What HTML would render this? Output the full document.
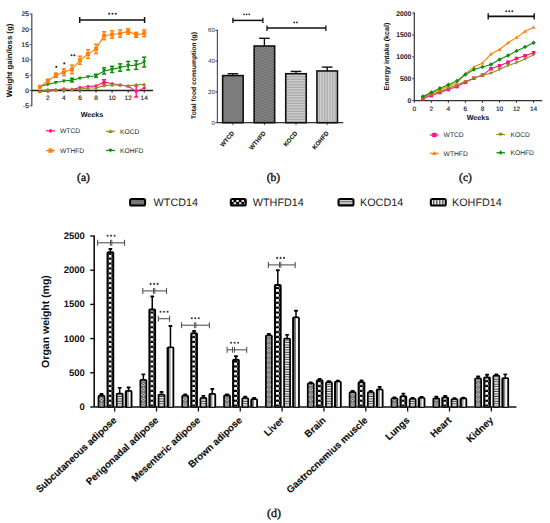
<!DOCTYPE html><html><head><meta charset="utf-8"><style>html,body{margin:0;padding:0;background:#fff;width:550px;height:523px;overflow:hidden}svg{display:block;text-rendering:geometricPrecision}</style></head><body>
<svg width="550" height="523" viewBox="0 0 550 523">
<defs>
<pattern id="pWT" x="-2.2" y="0" width="4.4" height="4.9" patternUnits="userSpaceOnUse"><rect width="4.4" height="4.9" fill="#7e7e7e"/><rect x="1.6" y="1.2" width="1.2" height="0.9" fill="#e6e6e6"/><rect x="1.5" y="2.1" width="1.4" height="0.8" fill="#3a3a3a"/><rect x="0.1" y="2.0" width="1.0" height="1.0" fill="#f0f0f0"/><rect x="3.3" y="2.0" width="1.0" height="1.0" fill="#f0f0f0"/><rect x="1.6" y="2.9" width="1.2" height="0.9" fill="#e6e6e6"/></pattern>
<pattern id="pHF" x="-1.9" y="0" width="6" height="4.9" patternUnits="userSpaceOnUse"><rect width="6" height="4.9" fill="#000"/><rect x="0" y="0.05" width="3.0" height="2.65" rx="0.3" fill="#fff"/><rect x="3.4" y="2.5" width="2.6" height="2.3" fill="#e8e8e8"/></pattern>
<pattern id="pKC" x="0" y="0" width="4" height="2.45" patternUnits="userSpaceOnUse"><rect width="4" height="2.45" fill="#f4f4f4"/><rect y="1.4" width="4" height="1.05" fill="#444"/></pattern>
<pattern id="pKH" x="0" y="0" width="3.6" height="4" patternUnits="userSpaceOnUse"><rect width="3.6" height="4" fill="#fbfbfb"/><rect x="2.2" width="1.4" height="4" fill="#7a7a7a"/></pattern>
<pattern id="lWT" x="0.3" y="199.2" width="2.8" height="2.8" patternUnits="userSpaceOnUse"><rect width="2.8" height="2.8" fill="#5e5e5e"/><rect x="0.3" y="0.3" width="0.9" height="0.9" fill="#e8e8e8"/><rect x="1.7" y="1.7" width="0.9" height="0.9" fill="#bdbdbd"/></pattern>
<pattern id="lHF" x="231" y="199.4" width="5.2" height="5.2" patternUnits="userSpaceOnUse"><rect width="5.2" height="5.2" fill="#000"/><rect x="0.2" y="0.2" width="2.3" height="2.3" fill="#fff"/><rect x="2.8" y="2.8" width="2.3" height="2.3" fill="#fff"/></pattern>
<pattern id="lKC" x="0" y="199.6" width="5" height="2.8" patternUnits="userSpaceOnUse"><rect width="5" height="2.8" fill="#fff"/><rect y="1.4" width="5" height="1.2" fill="#333"/></pattern>
<pattern id="lKH" x="431.4" y="0" width="3" height="5" patternUnits="userSpaceOnUse"><rect width="3" height="5" fill="#fff"/><rect x="1.8" width="1.2" height="5" fill="#222"/></pattern>
<pattern id="bHF" width="1.6" height="1.6" patternUnits="userSpaceOnUse"><rect width="1.6" height="1.6" fill="#9c9c9c"/><rect width="0.8" height="0.8" fill="#5a5a5a"/><rect x="0.8" y="0.8" width="0.8" height="0.8" fill="#5a5a5a"/></pattern>
<pattern id="bKC" width="1.6" height="1.6" patternUnits="userSpaceOnUse"><rect width="1.6" height="1.6" fill="#d0d0d0"/><rect y="0.8" width="1.6" height="0.8" fill="#a8a8a8"/></pattern>
<pattern id="bKH" width="1.6" height="1.6" patternUnits="userSpaceOnUse"><rect width="1.6" height="1.6" fill="#d4d4d4"/><rect x="0.8" width="0.8" height="1.6" fill="#acacac"/></pattern>
</defs>
<rect width="550" height="523" fill="#fff"/>
<line x1="31.8" y1="13.5" x2="31.8" y2="106.3" stroke="#555" stroke-width="1.3"/>
<line x1="29.6" y1="14" x2="31.8" y2="14" stroke="#555" stroke-width="1"/>
<text x="28.9" y="16.3" font-size="6.6" font-weight="normal" text-anchor="end" fill="#222" font-family='"Liberation Sans", sans-serif' stroke="#222" stroke-width="0.2">25</text>
<line x1="29.6" y1="29.3" x2="31.8" y2="29.3" stroke="#555" stroke-width="1"/>
<text x="28.9" y="31.6" font-size="6.6" font-weight="normal" text-anchor="end" fill="#222" font-family='"Liberation Sans", sans-serif' stroke="#222" stroke-width="0.2">20</text>
<line x1="29.6" y1="44.6" x2="31.8" y2="44.6" stroke="#555" stroke-width="1"/>
<text x="28.9" y="46.9" font-size="6.6" font-weight="normal" text-anchor="end" fill="#222" font-family='"Liberation Sans", sans-serif' stroke="#222" stroke-width="0.2">15</text>
<line x1="29.6" y1="59.9" x2="31.8" y2="59.9" stroke="#555" stroke-width="1"/>
<text x="28.9" y="62.2" font-size="6.6" font-weight="normal" text-anchor="end" fill="#222" font-family='"Liberation Sans", sans-serif' stroke="#222" stroke-width="0.2">10</text>
<line x1="29.6" y1="75.2" x2="31.8" y2="75.2" stroke="#555" stroke-width="1"/>
<text x="28.9" y="77.5" font-size="6.6" font-weight="normal" text-anchor="end" fill="#222" font-family='"Liberation Sans", sans-serif' stroke="#222" stroke-width="0.2">5</text>
<line x1="29.6" y1="90.5" x2="31.8" y2="90.5" stroke="#555" stroke-width="1"/>
<text x="28.9" y="92.8" font-size="6.6" font-weight="normal" text-anchor="end" fill="#222" font-family='"Liberation Sans", sans-serif' stroke="#222" stroke-width="0.2">0</text>
<line x1="29.6" y1="105.8" x2="31.8" y2="105.8" stroke="#555" stroke-width="1"/>
<text x="28.9" y="108.1" font-size="6.6" font-weight="normal" text-anchor="end" fill="#222" font-family='"Liberation Sans", sans-serif' stroke="#222" stroke-width="0.2">-5</text>
<line x1="31.8" y1="90.5" x2="153" y2="90.5" stroke="#222" stroke-width="1.3"/>
<line x1="47.86" y1="90.5" x2="47.86" y2="92.7" stroke="#222" stroke-width="1"/>
<text x="47.86" y="100.3" font-size="6.5" font-weight="normal" text-anchor="middle" fill="#222" font-family='"Liberation Sans", sans-serif' stroke="#222" stroke-width="0.15">2</text>
<line x1="63.92" y1="90.5" x2="63.92" y2="92.7" stroke="#222" stroke-width="1"/>
<text x="63.92" y="100.3" font-size="6.5" font-weight="normal" text-anchor="middle" fill="#222" font-family='"Liberation Sans", sans-serif' stroke="#222" stroke-width="0.15">4</text>
<line x1="79.98" y1="90.5" x2="79.98" y2="92.7" stroke="#222" stroke-width="1"/>
<text x="79.98" y="100.3" font-size="6.5" font-weight="normal" text-anchor="middle" fill="#222" font-family='"Liberation Sans", sans-serif' stroke="#222" stroke-width="0.15">6</text>
<line x1="96.04" y1="90.5" x2="96.04" y2="92.7" stroke="#222" stroke-width="1"/>
<text x="96.04" y="100.3" font-size="6.5" font-weight="normal" text-anchor="middle" fill="#222" font-family='"Liberation Sans", sans-serif' stroke="#222" stroke-width="0.15">8</text>
<line x1="112.1" y1="90.5" x2="112.1" y2="92.7" stroke="#222" stroke-width="1"/>
<text x="112.1" y="100.3" font-size="6.5" font-weight="normal" text-anchor="middle" fill="#222" font-family='"Liberation Sans", sans-serif' stroke="#222" stroke-width="0.15">10</text>
<line x1="128.16" y1="90.5" x2="128.16" y2="92.7" stroke="#222" stroke-width="1"/>
<text x="128.16" y="100.3" font-size="6.5" font-weight="normal" text-anchor="middle" fill="#222" font-family='"Liberation Sans", sans-serif' stroke="#222" stroke-width="0.15">12</text>
<line x1="144.22" y1="90.5" x2="144.22" y2="92.7" stroke="#222" stroke-width="1"/>
<text x="144.22" y="100.3" font-size="6.5" font-weight="normal" text-anchor="middle" fill="#222" font-family='"Liberation Sans", sans-serif' stroke="#222" stroke-width="0.15">14</text>
<text x="92" y="116.5" font-size="7.2" font-weight="bold" text-anchor="middle" fill="#111" font-family='"Liberation Sans", sans-serif'>Weeks</text>
<text x="12.2" y="60.5" font-size="7.75" font-weight="bold" text-anchor="middle" fill="#111" font-family='"Liberation Sans", sans-serif' transform="rotate(-90 12.2 60.5)">Weight gain/loss (g)</text>
<polyline points="39.83,91.42 47.86,91.11 55.89,89.89 63.92,88.97 71.95,89.58 79.98,87.44 88.01,86.52 96.04,85.91 104.07,81.93 112.1,83.77 120.13,84.99 128.16,86.22 136.19,91.42 144.22,88.05" fill="none" stroke="#ff1288" stroke-width="1.1"/>
<polygon points="39.83,89.42 41.83,91.42 39.83,93.42 37.83,91.42" fill="#ff1288"/>
<polygon points="47.86,89.11 49.86,91.11 47.86,93.11 45.86,91.11" fill="#ff1288"/>
<polygon points="55.89,87.89 57.89,89.89 55.89,91.89 53.89,89.89" fill="#ff1288"/>
<polygon points="63.92,86.97 65.92,88.97 63.92,90.97 61.92,88.97" fill="#ff1288"/>
<polygon points="71.95,87.58 73.95,89.58 71.95,91.58 69.95,89.58" fill="#ff1288"/>
<polygon points="79.98,85.44 81.98,87.44 79.98,89.44 77.98,87.44" fill="#ff1288"/>
<polygon points="88.01,84.52 90.01,86.52 88.01,88.52 86.01,86.52" fill="#ff1288"/>
<polygon points="96.04,83.91 98.04,85.91 96.04,87.91 94.04,85.91" fill="#ff1288"/>
<line x1="104.07" y1="79.79" x2="104.07" y2="84.07" stroke="#ff1288" stroke-width="1.4"/>
<line x1="101.97" y1="79.79" x2="106.17" y2="79.79" stroke="#ff1288" stroke-width="1.5"/>
<line x1="101.97" y1="84.07" x2="106.17" y2="84.07" stroke="#ff1288" stroke-width="1.5"/>
<polygon points="104.07,79.93 106.07,81.93 104.07,83.93 102.07,81.93" fill="#ff1288"/>
<polygon points="112.1,81.77 114.1,83.77 112.1,85.77 110.1,83.77" fill="#ff1288"/>
<polygon points="120.13,82.99 122.13,84.99 120.13,86.99 118.13,84.99" fill="#ff1288"/>
<polygon points="128.16,84.22 130.16,86.22 128.16,88.22 126.16,86.22" fill="#ff1288"/>
<line x1="136.19" y1="85.91" x2="136.19" y2="96.93" stroke="#ff1288" stroke-width="1.4"/>
<line x1="134.09" y1="85.91" x2="138.29" y2="85.91" stroke="#ff1288" stroke-width="1.5"/>
<line x1="134.09" y1="96.93" x2="138.29" y2="96.93" stroke="#ff1288" stroke-width="1.5"/>
<polygon points="136.19,89.42 138.19,91.42 136.19,93.42 134.19,91.42" fill="#ff1288"/>
<polygon points="144.22,86.05 146.22,88.05 144.22,90.05 142.22,88.05" fill="#ff1288"/>
<polyline points="39.83,91.42 47.86,89.58 55.89,89.58 63.92,89.28 71.95,89.58 79.98,88.97 88.01,88.05 96.04,88.05 104.07,85.6 112.1,84.99 120.13,84.99 128.16,85.91 136.19,84.69 144.22,84.38" fill="none" stroke="#8f8f12" stroke-width="1.1"/>
<polygon points="39.83,89.22 41.83,93.02 37.83,93.02" fill="#8f8f12"/>
<polygon points="47.86,87.38 49.86,91.18 45.86,91.18" fill="#8f8f12"/>
<polygon points="55.89,87.38 57.89,91.18 53.89,91.18" fill="#8f8f12"/>
<polygon points="63.92,87.08 65.92,90.88 61.92,90.88" fill="#8f8f12"/>
<polygon points="71.95,87.38 73.95,91.18 69.95,91.18" fill="#8f8f12"/>
<polygon points="79.98,86.77 81.98,90.57 77.98,90.57" fill="#8f8f12"/>
<polygon points="88.01,85.85 90.01,89.65 86.01,89.65" fill="#8f8f12"/>
<polygon points="96.04,85.85 98.04,89.65 94.04,89.65" fill="#8f8f12"/>
<polygon points="104.07,83.4 106.07,87.2 102.07,87.2" fill="#8f8f12"/>
<polygon points="112.1,82.79 114.1,86.59 110.1,86.59" fill="#8f8f12"/>
<polygon points="120.13,82.79 122.13,86.59 118.13,86.59" fill="#8f8f12"/>
<polygon points="128.16,83.71 130.16,87.51 126.16,87.51" fill="#8f8f12"/>
<polygon points="136.19,82.49 138.19,86.29 134.19,86.29" fill="#8f8f12"/>
<polygon points="144.22,82.18 146.22,85.98 142.22,85.98" fill="#8f8f12"/>
<polyline points="39.83,86.52 47.86,84.38 55.89,82.54 63.92,81.01 71.95,80.1 79.98,78.26 88.01,76.73 96.04,75.81 104.07,70.92 112.1,69.39 120.13,67.55 128.16,65.71 136.19,65.1 144.22,62.04" fill="none" stroke="#0f8c0f" stroke-width="1.1"/>
<polygon points="39.83,88.72 41.83,84.92 37.83,84.92" fill="#0f8c0f"/>
<polygon points="47.86,86.58 49.86,82.78 45.86,82.78" fill="#0f8c0f"/>
<polygon points="55.89,84.74 57.89,80.94 53.89,80.94" fill="#0f8c0f"/>
<polygon points="63.92,83.21 65.92,79.41 61.92,79.41" fill="#0f8c0f"/>
<line x1="71.95" y1="78.26" x2="71.95" y2="81.93" stroke="#0f8c0f" stroke-width="1.4"/>
<line x1="69.85" y1="78.26" x2="74.05" y2="78.26" stroke="#0f8c0f" stroke-width="1.5"/>
<line x1="69.85" y1="81.93" x2="74.05" y2="81.93" stroke="#0f8c0f" stroke-width="1.5"/>
<polygon points="71.95,82.3 73.95,78.5 69.95,78.5" fill="#0f8c0f"/>
<polygon points="79.98,80.46 81.98,76.66 77.98,76.66" fill="#0f8c0f"/>
<polygon points="88.01,78.93 90.01,75.13 86.01,75.13" fill="#0f8c0f"/>
<line x1="96.04" y1="74.28" x2="96.04" y2="77.34" stroke="#0f8c0f" stroke-width="1.4"/>
<line x1="93.94" y1="74.28" x2="98.14" y2="74.28" stroke="#0f8c0f" stroke-width="1.5"/>
<line x1="93.94" y1="77.34" x2="98.14" y2="77.34" stroke="#0f8c0f" stroke-width="1.5"/>
<polygon points="96.04,78.01 98.04,74.21 94.04,74.21" fill="#0f8c0f"/>
<line x1="104.07" y1="67.86" x2="104.07" y2="73.98" stroke="#0f8c0f" stroke-width="1.4"/>
<line x1="101.97" y1="67.86" x2="106.17" y2="67.86" stroke="#0f8c0f" stroke-width="1.5"/>
<line x1="101.97" y1="73.98" x2="106.17" y2="73.98" stroke="#0f8c0f" stroke-width="1.5"/>
<polygon points="104.07,73.12 106.07,69.32 102.07,69.32" fill="#0f8c0f"/>
<line x1="112.1" y1="66.33" x2="112.1" y2="72.45" stroke="#0f8c0f" stroke-width="1.4"/>
<line x1="110" y1="66.33" x2="114.2" y2="66.33" stroke="#0f8c0f" stroke-width="1.5"/>
<line x1="110" y1="72.45" x2="114.2" y2="72.45" stroke="#0f8c0f" stroke-width="1.5"/>
<polygon points="112.1,71.59 114.1,67.79 110.1,67.79" fill="#0f8c0f"/>
<line x1="120.13" y1="63.88" x2="120.13" y2="71.22" stroke="#0f8c0f" stroke-width="1.4"/>
<line x1="118.03" y1="63.88" x2="122.23" y2="63.88" stroke="#0f8c0f" stroke-width="1.5"/>
<line x1="118.03" y1="71.22" x2="122.23" y2="71.22" stroke="#0f8c0f" stroke-width="1.5"/>
<polygon points="120.13,69.75 122.13,65.95 118.13,65.95" fill="#0f8c0f"/>
<line x1="128.16" y1="61.43" x2="128.16" y2="70" stroke="#0f8c0f" stroke-width="1.4"/>
<line x1="126.06" y1="61.43" x2="130.26" y2="61.43" stroke="#0f8c0f" stroke-width="1.5"/>
<line x1="126.06" y1="70" x2="130.26" y2="70" stroke="#0f8c0f" stroke-width="1.5"/>
<polygon points="128.16,67.91 130.16,64.11 126.16,64.11" fill="#0f8c0f"/>
<line x1="136.19" y1="60.82" x2="136.19" y2="69.39" stroke="#0f8c0f" stroke-width="1.4"/>
<line x1="134.09" y1="60.82" x2="138.29" y2="60.82" stroke="#0f8c0f" stroke-width="1.5"/>
<line x1="134.09" y1="69.39" x2="138.29" y2="69.39" stroke="#0f8c0f" stroke-width="1.5"/>
<polygon points="136.19,67.3 138.19,63.5 134.19,63.5" fill="#0f8c0f"/>
<line x1="144.22" y1="57.15" x2="144.22" y2="66.94" stroke="#0f8c0f" stroke-width="1.4"/>
<line x1="142.12" y1="57.15" x2="146.32" y2="57.15" stroke="#0f8c0f" stroke-width="1.5"/>
<line x1="142.12" y1="66.94" x2="146.32" y2="66.94" stroke="#0f8c0f" stroke-width="1.5"/>
<polygon points="144.22,64.24 146.22,60.44 142.22,60.44" fill="#0f8c0f"/>
<polyline points="39.83,86.83 47.86,81.01 55.89,75.2 63.92,72.14 71.95,69.39 79.98,60.21 88.01,54.09 96.04,48.88 104.07,35.73 112.1,34.5 120.13,33.58 128.16,31.44 136.19,34.81 144.22,33.28" fill="none" stroke="#ff800c" stroke-width="1.1"/>
<rect x="37.83" y="84.83" width="4" height="4" fill="#ff800c"/>
<line x1="47.86" y1="79.18" x2="47.86" y2="82.85" stroke="#ff800c" stroke-width="1.4"/>
<line x1="45.76" y1="79.18" x2="49.96" y2="79.18" stroke="#ff800c" stroke-width="1.5"/>
<line x1="45.76" y1="82.85" x2="49.96" y2="82.85" stroke="#ff800c" stroke-width="1.5"/>
<rect x="45.86" y="79.01" width="4" height="4" fill="#ff800c"/>
<line x1="55.89" y1="73.06" x2="55.89" y2="77.34" stroke="#ff800c" stroke-width="1.4"/>
<line x1="53.79" y1="73.06" x2="57.99" y2="73.06" stroke="#ff800c" stroke-width="1.5"/>
<line x1="53.79" y1="77.34" x2="57.99" y2="77.34" stroke="#ff800c" stroke-width="1.5"/>
<rect x="53.89" y="73.2" width="4" height="4" fill="#ff800c"/>
<line x1="63.92" y1="68.77" x2="63.92" y2="75.51" stroke="#ff800c" stroke-width="1.4"/>
<line x1="61.82" y1="68.77" x2="66.02" y2="68.77" stroke="#ff800c" stroke-width="1.5"/>
<line x1="61.82" y1="75.51" x2="66.02" y2="75.51" stroke="#ff800c" stroke-width="1.5"/>
<rect x="61.92" y="70.14" width="4" height="4" fill="#ff800c"/>
<line x1="71.95" y1="65.1" x2="71.95" y2="73.67" stroke="#ff800c" stroke-width="1.4"/>
<line x1="69.85" y1="65.1" x2="74.05" y2="65.1" stroke="#ff800c" stroke-width="1.5"/>
<line x1="69.85" y1="73.67" x2="74.05" y2="73.67" stroke="#ff800c" stroke-width="1.5"/>
<rect x="69.95" y="67.39" width="4" height="4" fill="#ff800c"/>
<line x1="79.98" y1="56.23" x2="79.98" y2="64.18" stroke="#ff800c" stroke-width="1.4"/>
<line x1="77.88" y1="56.23" x2="82.08" y2="56.23" stroke="#ff800c" stroke-width="1.5"/>
<line x1="77.88" y1="64.18" x2="82.08" y2="64.18" stroke="#ff800c" stroke-width="1.5"/>
<rect x="77.98" y="58.21" width="4" height="4" fill="#ff800c"/>
<line x1="88.01" y1="49.8" x2="88.01" y2="58.37" stroke="#ff800c" stroke-width="1.4"/>
<line x1="85.91" y1="49.8" x2="90.11" y2="49.8" stroke="#ff800c" stroke-width="1.5"/>
<line x1="85.91" y1="58.37" x2="90.11" y2="58.37" stroke="#ff800c" stroke-width="1.5"/>
<rect x="86.01" y="52.09" width="4" height="4" fill="#ff800c"/>
<line x1="96.04" y1="44.29" x2="96.04" y2="53.47" stroke="#ff800c" stroke-width="1.4"/>
<line x1="93.94" y1="44.29" x2="98.14" y2="44.29" stroke="#ff800c" stroke-width="1.5"/>
<line x1="93.94" y1="53.47" x2="98.14" y2="53.47" stroke="#ff800c" stroke-width="1.5"/>
<rect x="94.04" y="46.88" width="4" height="4" fill="#ff800c"/>
<line x1="104.07" y1="31.75" x2="104.07" y2="39.7" stroke="#ff800c" stroke-width="1.4"/>
<line x1="101.97" y1="31.75" x2="106.17" y2="31.75" stroke="#ff800c" stroke-width="1.5"/>
<line x1="101.97" y1="39.7" x2="106.17" y2="39.7" stroke="#ff800c" stroke-width="1.5"/>
<rect x="102.07" y="33.73" width="4" height="4" fill="#ff800c"/>
<line x1="112.1" y1="30.83" x2="112.1" y2="38.17" stroke="#ff800c" stroke-width="1.4"/>
<line x1="110" y1="30.83" x2="114.2" y2="30.83" stroke="#ff800c" stroke-width="1.5"/>
<line x1="110" y1="38.17" x2="114.2" y2="38.17" stroke="#ff800c" stroke-width="1.5"/>
<rect x="110.1" y="32.5" width="4" height="4" fill="#ff800c"/>
<line x1="120.13" y1="29.91" x2="120.13" y2="37.26" stroke="#ff800c" stroke-width="1.4"/>
<line x1="118.03" y1="29.91" x2="122.23" y2="29.91" stroke="#ff800c" stroke-width="1.5"/>
<line x1="118.03" y1="37.26" x2="122.23" y2="37.26" stroke="#ff800c" stroke-width="1.5"/>
<rect x="118.13" y="31.58" width="4" height="4" fill="#ff800c"/>
<line x1="128.16" y1="28.69" x2="128.16" y2="34.2" stroke="#ff800c" stroke-width="1.4"/>
<line x1="126.06" y1="28.69" x2="130.26" y2="28.69" stroke="#ff800c" stroke-width="1.5"/>
<line x1="126.06" y1="34.2" x2="130.26" y2="34.2" stroke="#ff800c" stroke-width="1.5"/>
<rect x="126.16" y="29.44" width="4" height="4" fill="#ff800c"/>
<line x1="136.19" y1="32.36" x2="136.19" y2="37.26" stroke="#ff800c" stroke-width="1.4"/>
<line x1="134.09" y1="32.36" x2="138.29" y2="32.36" stroke="#ff800c" stroke-width="1.5"/>
<line x1="134.09" y1="37.26" x2="138.29" y2="37.26" stroke="#ff800c" stroke-width="1.5"/>
<rect x="134.19" y="32.81" width="4" height="4" fill="#ff800c"/>
<line x1="144.22" y1="29.91" x2="144.22" y2="36.64" stroke="#ff800c" stroke-width="1.4"/>
<line x1="142.12" y1="29.91" x2="146.32" y2="29.91" stroke="#ff800c" stroke-width="1.5"/>
<line x1="142.12" y1="36.64" x2="146.32" y2="36.64" stroke="#ff800c" stroke-width="1.5"/>
<rect x="142.22" y="31.28" width="4" height="4" fill="#ff800c"/>
<line x1="79.68" y1="20" x2="144.6" y2="20" stroke="#111" stroke-width="1.6"/>
<line x1="79.68" y1="17" x2="79.68" y2="23" stroke="#111" stroke-width="1.5"/>
<line x1="144.6" y1="17" x2="144.6" y2="23" stroke="#111" stroke-width="1.5"/>
<circle cx="109.2" cy="13.8" r="1.05" fill="#2a2a35"/>
<circle cx="112.5" cy="13.8" r="1.05" fill="#2a2a35"/>
<circle cx="115.8" cy="13.8" r="1.05" fill="#2a2a35"/>
<circle cx="56.3" cy="66.9" r="1.05" fill="#2a2a35"/>
<circle cx="64.3" cy="63.4" r="1.05" fill="#2a2a35"/>
<circle cx="71.55" cy="55.3" r="1.05" fill="#2a2a35"/>
<circle cx="74.45" cy="55.3" r="1.05" fill="#2a2a35"/>
<line x1="46" y1="130.8" x2="55" y2="130.8" stroke="#ff1288" stroke-width="1.2"/>
<polygon points="50.5,128.65 52.65,130.8 50.5,132.95 48.35,130.8" fill="#ff1288"/>
<text x="60" y="133.2" font-size="6.7" font-weight="normal" text-anchor="start" fill="#2a2a2a" font-family='"Liberation Sans", sans-serif'>WTCD</text>
<line x1="46" y1="150.6" x2="55" y2="150.6" stroke="#ff800c" stroke-width="1.2"/>
<rect x="48.35" y="148.45" width="4.3" height="4.3" fill="#ff800c"/>
<text x="60" y="153" font-size="6.7" font-weight="normal" text-anchor="start" fill="#2a2a2a" font-family='"Liberation Sans", sans-serif'>WTHFD</text>
<line x1="106" y1="131.3" x2="115" y2="131.3" stroke="#8f8f12" stroke-width="1.2"/>
<polygon points="110.5,128.94 112.65,133.02 108.35,133.02" fill="#8f8f12"/>
<text x="120" y="133.7" font-size="6.7" font-weight="normal" text-anchor="start" fill="#2a2a2a" font-family='"Liberation Sans", sans-serif'>KOCD</text>
<line x1="106" y1="150.5" x2="115" y2="150.5" stroke="#0f8c0f" stroke-width="1.2"/>
<polygon points="110.5,152.87 112.65,148.78 108.35,148.78" fill="#0f8c0f"/>
<text x="120" y="152.9" font-size="6.7" font-weight="normal" text-anchor="start" fill="#2a2a2a" font-family='"Liberation Sans", sans-serif'>KOHFD</text>
<text x="83.5" y="181" font-size="11.5" font-weight="normal" text-anchor="middle" fill="#111" font-family='"Liberation Serif", serif' stroke="#111" stroke-width="0.4">(a)</text>
<line x1="217.4" y1="29.8" x2="217.4" y2="122.7" stroke="#555" stroke-width="1.2"/>
<line x1="215.4" y1="30.3" x2="217.4" y2="30.3" stroke="#333" stroke-width="1"/>
<text x="214.8" y="32.4" font-size="6.1" font-weight="normal" text-anchor="end" fill="#222" font-family='"Liberation Sans", sans-serif'>60</text>
<line x1="215.4" y1="61.1" x2="217.4" y2="61.1" stroke="#333" stroke-width="1"/>
<text x="214.8" y="63.2" font-size="6.1" font-weight="normal" text-anchor="end" fill="#222" font-family='"Liberation Sans", sans-serif'>40</text>
<line x1="215.4" y1="91.9" x2="217.4" y2="91.9" stroke="#333" stroke-width="1"/>
<text x="214.8" y="94" font-size="6.1" font-weight="normal" text-anchor="end" fill="#222" font-family='"Liberation Sans", sans-serif'>20</text>
<line x1="215.4" y1="122.7" x2="217.4" y2="122.7" stroke="#333" stroke-width="1"/>
<text x="214.8" y="124.8" font-size="6.1" font-weight="normal" text-anchor="end" fill="#222" font-family='"Liberation Sans", sans-serif'>0</text>
<line x1="217.4" y1="122.7" x2="343.3" y2="122.7" stroke="#333" stroke-width="1.2"/>
<line x1="232.9" y1="75.58" x2="232.9" y2="73.73" stroke="#111" stroke-width="1.4"/>
<line x1="227.6" y1="73.73" x2="238.2" y2="73.73" stroke="#111" stroke-width="1.4"/>
<rect x="222.65" y="75.58" width="20.5" height="47.12" fill="#7d7d7d" stroke="#111" stroke-width="1.6"/>
<line x1="232.9" y1="122.7" x2="232.9" y2="124.9" stroke="#333" stroke-width="1"/>
<text x="234.7" y="133.3" font-size="6.1" font-weight="bold" text-anchor="end" fill="#222" font-family='"Liberation Sans", sans-serif' transform="rotate(-50 234.7 133.3)" stroke="#222" stroke-width="0.15">WTCD</text>
<line x1="264.4" y1="46.01" x2="264.4" y2="38.31" stroke="#111" stroke-width="1.4"/>
<line x1="259.1" y1="38.31" x2="269.7" y2="38.31" stroke="#111" stroke-width="1.4"/>
<rect x="254.15" y="46.01" width="20.5" height="76.69" fill="url(#bHF)" stroke="#111" stroke-width="1.6"/>
<line x1="264.4" y1="122.7" x2="264.4" y2="124.9" stroke="#333" stroke-width="1"/>
<text x="266.2" y="133.3" font-size="6.1" font-weight="bold" text-anchor="end" fill="#222" font-family='"Liberation Sans", sans-serif' transform="rotate(-50 266.2 133.3)" stroke="#222" stroke-width="0.15">WTHFD</text>
<line x1="296" y1="73.73" x2="296" y2="71.42" stroke="#111" stroke-width="1.4"/>
<line x1="290.7" y1="71.42" x2="301.3" y2="71.42" stroke="#111" stroke-width="1.4"/>
<rect x="285.75" y="73.73" width="20.5" height="48.97" fill="url(#bKC)" stroke="#111" stroke-width="1.6"/>
<line x1="296" y1="122.7" x2="296" y2="124.9" stroke="#333" stroke-width="1"/>
<text x="297.8" y="133.3" font-size="6.1" font-weight="bold" text-anchor="end" fill="#222" font-family='"Liberation Sans", sans-serif' transform="rotate(-50 297.8 133.3)" stroke="#222" stroke-width="0.15">KOCD</text>
<line x1="327.2" y1="70.96" x2="327.2" y2="67.11" stroke="#111" stroke-width="1.4"/>
<line x1="321.9" y1="67.11" x2="332.5" y2="67.11" stroke="#111" stroke-width="1.4"/>
<rect x="316.95" y="70.96" width="20.5" height="51.74" fill="url(#bKH)" stroke="#111" stroke-width="1.6"/>
<line x1="327.2" y1="122.7" x2="327.2" y2="124.9" stroke="#333" stroke-width="1"/>
<text x="329" y="133.3" font-size="6.1" font-weight="bold" text-anchor="end" fill="#222" font-family='"Liberation Sans", sans-serif' transform="rotate(-50 329 133.3)" stroke="#222" stroke-width="0.15">KOHFD</text>
<text x="196" y="75.5" font-size="6.75" font-weight="bold" text-anchor="middle" fill="#111" font-family='"Liberation Sans", sans-serif' transform="rotate(-90 196 75.5)">Total food consumption (g)</text>
<line x1="232.9" y1="20.4" x2="262.9" y2="20.4" stroke="#111" stroke-width="1.5"/>
<line x1="232.9" y1="17.8" x2="232.9" y2="23" stroke="#111" stroke-width="1.3"/>
<line x1="262.9" y1="17.8" x2="262.9" y2="23" stroke="#111" stroke-width="1.3"/>
<circle cx="244" cy="14.3" r="0.9" fill="#2a2a35"/>
<circle cx="246.6" cy="14.3" r="0.9" fill="#2a2a35"/>
<circle cx="249.2" cy="14.3" r="0.9" fill="#2a2a35"/>
<line x1="267" y1="28.1" x2="325.9" y2="28.1" stroke="#111" stroke-width="1.5"/>
<line x1="267" y1="25.6" x2="267" y2="31" stroke="#111" stroke-width="1.3"/>
<line x1="325.9" y1="25.6" x2="325.9" y2="31" stroke="#111" stroke-width="1.3"/>
<circle cx="294.3" cy="22.4" r="0.9" fill="#2a2a35"/>
<circle cx="296.9" cy="22.4" r="0.9" fill="#2a2a35"/>
<text x="273.4" y="181" font-size="11.5" font-weight="normal" text-anchor="middle" fill="#111" font-family='"Liberation Serif", serif' stroke="#111" stroke-width="0.4">(b)</text>
<line x1="414.3" y1="12.6" x2="414.3" y2="100.6" stroke="#333" stroke-width="1.2"/>
<line x1="412.3" y1="13.1" x2="414.3" y2="13.1" stroke="#333" stroke-width="1"/>
<text x="411.3" y="15.5" font-size="6.8" font-weight="bold" text-anchor="end" fill="#222" font-family='"Liberation Sans", sans-serif'>2000</text>
<line x1="412.3" y1="34.97" x2="414.3" y2="34.97" stroke="#333" stroke-width="1"/>
<text x="411.3" y="37.37" font-size="6.8" font-weight="bold" text-anchor="end" fill="#222" font-family='"Liberation Sans", sans-serif'>1500</text>
<line x1="412.3" y1="56.85" x2="414.3" y2="56.85" stroke="#333" stroke-width="1"/>
<text x="411.3" y="59.25" font-size="6.8" font-weight="bold" text-anchor="end" fill="#222" font-family='"Liberation Sans", sans-serif'>1000</text>
<line x1="412.3" y1="78.72" x2="414.3" y2="78.72" stroke="#333" stroke-width="1"/>
<text x="411.3" y="81.12" font-size="6.8" font-weight="bold" text-anchor="end" fill="#222" font-family='"Liberation Sans", sans-serif'>500</text>
<line x1="412.3" y1="100.6" x2="414.3" y2="100.6" stroke="#333" stroke-width="1"/>
<text x="411.3" y="103" font-size="6.8" font-weight="bold" text-anchor="end" fill="#222" font-family='"Liberation Sans", sans-serif'>0</text>
<line x1="414.3" y1="100.6" x2="542.2" y2="100.6" stroke="#333" stroke-width="1.3"/>
<line x1="414.3" y1="100.6" x2="414.3" y2="102.8" stroke="#333" stroke-width="1"/>
<text x="414.3" y="110.6" font-size="6.5" font-weight="normal" text-anchor="middle" fill="#222" font-family='"Liberation Sans", sans-serif' stroke="#222" stroke-width="0.15">0</text>
<line x1="431.34" y1="100.6" x2="431.34" y2="102.8" stroke="#333" stroke-width="1"/>
<text x="431.34" y="110.6" font-size="6.5" font-weight="normal" text-anchor="middle" fill="#222" font-family='"Liberation Sans", sans-serif' stroke="#222" stroke-width="0.15">2</text>
<line x1="448.38" y1="100.6" x2="448.38" y2="102.8" stroke="#333" stroke-width="1"/>
<text x="448.38" y="110.6" font-size="6.5" font-weight="normal" text-anchor="middle" fill="#222" font-family='"Liberation Sans", sans-serif' stroke="#222" stroke-width="0.15">4</text>
<line x1="465.42" y1="100.6" x2="465.42" y2="102.8" stroke="#333" stroke-width="1"/>
<text x="465.42" y="110.6" font-size="6.5" font-weight="normal" text-anchor="middle" fill="#222" font-family='"Liberation Sans", sans-serif' stroke="#222" stroke-width="0.15">6</text>
<line x1="482.46" y1="100.6" x2="482.46" y2="102.8" stroke="#333" stroke-width="1"/>
<text x="482.46" y="110.6" font-size="6.5" font-weight="normal" text-anchor="middle" fill="#222" font-family='"Liberation Sans", sans-serif' stroke="#222" stroke-width="0.15">8</text>
<line x1="499.5" y1="100.6" x2="499.5" y2="102.8" stroke="#333" stroke-width="1"/>
<text x="499.5" y="110.6" font-size="6.5" font-weight="normal" text-anchor="middle" fill="#222" font-family='"Liberation Sans", sans-serif' stroke="#222" stroke-width="0.15">10</text>
<line x1="516.54" y1="100.6" x2="516.54" y2="102.8" stroke="#333" stroke-width="1"/>
<text x="516.54" y="110.6" font-size="6.5" font-weight="normal" text-anchor="middle" fill="#222" font-family='"Liberation Sans", sans-serif' stroke="#222" stroke-width="0.15">12</text>
<line x1="533.58" y1="100.6" x2="533.58" y2="102.8" stroke="#333" stroke-width="1"/>
<text x="533.58" y="110.6" font-size="6.5" font-weight="normal" text-anchor="middle" fill="#222" font-family='"Liberation Sans", sans-serif' stroke="#222" stroke-width="0.15">14</text>
<text x="478" y="120" font-size="7.2" font-weight="bold" text-anchor="middle" fill="#111" font-family='"Liberation Sans", sans-serif'>Weeks</text>
<text x="389.3" y="56.5" font-size="7.2" font-weight="bold" text-anchor="middle" fill="#111" font-family='"Liberation Sans", sans-serif' transform="rotate(-90 389.3 56.5)">Energy intake (kcal)</text>
<polyline points="422.82,98.85 431.34,95.57 439.86,92.51 448.38,89.44 456.9,86.6 465.42,82.31 473.94,78.2 482.46,75.09 490.98,68.71 499.5,65.82 508.02,62.19 516.54,58.51 525.06,55.8 533.58,52.69" fill="none" stroke="#ff1288" stroke-width="1.1"/>
<rect x="421.02" y="97.05" width="3.6" height="3.6" fill="#ff1288"/>
<rect x="429.54" y="93.77" width="3.6" height="3.6" fill="#ff1288"/>
<rect x="438.06" y="90.71" width="3.6" height="3.6" fill="#ff1288"/>
<rect x="446.58" y="87.64" width="3.6" height="3.6" fill="#ff1288"/>
<rect x="455.1" y="84.8" width="3.6" height="3.6" fill="#ff1288"/>
<rect x="463.62" y="80.51" width="3.6" height="3.6" fill="#ff1288"/>
<rect x="472.14" y="76.4" width="3.6" height="3.6" fill="#ff1288"/>
<rect x="480.66" y="73.29" width="3.6" height="3.6" fill="#ff1288"/>
<rect x="489.18" y="66.91" width="3.6" height="3.6" fill="#ff1288"/>
<rect x="497.7" y="64.02" width="3.6" height="3.6" fill="#ff1288"/>
<rect x="506.22" y="60.39" width="3.6" height="3.6" fill="#ff1288"/>
<rect x="514.74" y="56.71" width="3.6" height="3.6" fill="#ff1288"/>
<rect x="523.26" y="54" width="3.6" height="3.6" fill="#ff1288"/>
<rect x="531.78" y="50.89" width="3.6" height="3.6" fill="#ff1288"/>
<polyline points="422.82,97.76 431.34,94.47 439.86,91.63 448.38,88.13 456.9,84.98 465.42,81.35 473.94,78.2 482.46,75.09 490.98,73.3 499.5,69.49 508.02,65.51 516.54,62.71 525.06,59.08 533.58,54.88" fill="none" stroke="#8f8f12" stroke-width="1.1"/>
<polygon points="422.82,99.74 424.62,96.32 421.02,96.32" fill="#8f8f12"/>
<polygon points="431.34,96.45 433.14,93.03 429.54,93.03" fill="#8f8f12"/>
<polygon points="439.86,93.61 441.66,90.19 438.06,90.19" fill="#8f8f12"/>
<polygon points="448.38,90.11 450.18,86.69 446.58,86.69" fill="#8f8f12"/>
<polygon points="456.9,86.96 458.7,83.54 455.1,83.54" fill="#8f8f12"/>
<polygon points="465.42,83.33 467.22,79.91 463.62,79.91" fill="#8f8f12"/>
<polygon points="473.94,80.18 475.74,76.76 472.14,76.76" fill="#8f8f12"/>
<polygon points="482.46,77.07 484.26,73.65 480.66,73.65" fill="#8f8f12"/>
<polygon points="490.98,75.28 492.78,71.86 489.18,71.86" fill="#8f8f12"/>
<polygon points="499.5,71.47 501.3,68.05 497.7,68.05" fill="#8f8f12"/>
<polygon points="508.02,67.49 509.82,64.07 506.22,64.07" fill="#8f8f12"/>
<polygon points="516.54,64.69 518.34,61.27 514.74,61.27" fill="#8f8f12"/>
<polygon points="525.06,61.06 526.86,57.64 523.26,57.64" fill="#8f8f12"/>
<polygon points="533.58,56.86 535.38,53.44 531.78,53.44" fill="#8f8f12"/>
<polyline points="422.82,97.1 431.34,93.16 439.86,89.66 448.38,86.16 456.9,83.1 465.42,73.61 473.94,66.91 482.46,63.11 490.98,54.01 499.5,49.5 508.02,42.72 516.54,37.6 525.06,31.3 533.58,27.32" fill="none" stroke="#ff800c" stroke-width="1.1"/>
<polygon points="422.82,95.12 424.62,98.54 421.02,98.54" fill="#ff800c"/>
<polygon points="431.34,91.18 433.14,94.6 429.54,94.6" fill="#ff800c"/>
<polygon points="439.86,87.68 441.66,91.1 438.06,91.1" fill="#ff800c"/>
<polygon points="448.38,84.18 450.18,87.6 446.58,87.6" fill="#ff800c"/>
<polygon points="456.9,81.12 458.7,84.54 455.1,84.54" fill="#ff800c"/>
<polygon points="465.42,71.63 467.22,75.05 463.62,75.05" fill="#ff800c"/>
<polygon points="473.94,64.93 475.74,68.35 472.14,68.35" fill="#ff800c"/>
<polygon points="482.46,61.13 484.26,64.55 480.66,64.55" fill="#ff800c"/>
<polygon points="490.98,52.03 492.78,55.45 489.18,55.45" fill="#ff800c"/>
<polygon points="499.5,47.52 501.3,50.94 497.7,50.94" fill="#ff800c"/>
<polygon points="508.02,40.74 509.82,44.16 506.22,44.16" fill="#ff800c"/>
<polygon points="516.54,35.62 518.34,39.04 514.74,39.04" fill="#ff800c"/>
<polygon points="525.06,29.32 526.86,32.74 523.26,32.74" fill="#ff800c"/>
<polygon points="533.58,25.34 535.38,28.76 531.78,28.76" fill="#ff800c"/>
<polyline points="422.82,96.44 431.34,92.51 439.86,88.26 448.38,84.72 456.9,80.91 465.42,74.57 473.94,69.49 482.46,66.91 490.98,64.51 499.5,59.61 508.02,55.49 516.54,50.9 525.06,46.92 533.58,42.72" fill="none" stroke="#0f8c0f" stroke-width="1.1"/>
<polygon points="422.82,94.24 425.02,96.44 422.82,98.64 420.62,96.44" fill="#0f8c0f"/>
<polygon points="431.34,90.31 433.54,92.51 431.34,94.71 429.14,92.51" fill="#0f8c0f"/>
<polygon points="439.86,86.06 442.06,88.26 439.86,90.46 437.66,88.26" fill="#0f8c0f"/>
<polygon points="448.38,82.52 450.58,84.72 448.38,86.92 446.18,84.72" fill="#0f8c0f"/>
<polygon points="456.9,78.71 459.1,80.91 456.9,83.11 454.7,80.91" fill="#0f8c0f"/>
<polygon points="465.42,72.37 467.62,74.57 465.42,76.77 463.22,74.57" fill="#0f8c0f"/>
<polygon points="473.94,67.29 476.14,69.49 473.94,71.69 471.74,69.49" fill="#0f8c0f"/>
<polygon points="482.46,64.71 484.66,66.91 482.46,69.11 480.26,66.91" fill="#0f8c0f"/>
<polygon points="490.98,62.31 493.18,64.51 490.98,66.71 488.78,64.51" fill="#0f8c0f"/>
<polygon points="499.5,57.41 501.7,59.61 499.5,61.81 497.3,59.61" fill="#0f8c0f"/>
<polygon points="508.02,53.29 510.22,55.49 508.02,57.69 505.82,55.49" fill="#0f8c0f"/>
<polygon points="516.54,48.7 518.74,50.9 516.54,53.1 514.34,50.9" fill="#0f8c0f"/>
<polygon points="525.06,44.72 527.26,46.92 525.06,49.12 522.86,46.92" fill="#0f8c0f"/>
<polygon points="533.58,40.52 535.78,42.72 533.58,44.92 531.38,42.72" fill="#0f8c0f"/>
<line x1="488.2" y1="16.4" x2="534.2" y2="16.4" stroke="#111" stroke-width="1.6"/>
<line x1="488.2" y1="13.2" x2="488.2" y2="19.6" stroke="#111" stroke-width="1.4"/>
<line x1="534.2" y1="13.2" x2="534.2" y2="19.6" stroke="#111" stroke-width="1.4"/>
<circle cx="506.3" cy="11.3" r="1" fill="#2a2a35"/>
<circle cx="509.3" cy="11.3" r="1" fill="#2a2a35"/>
<circle cx="512.3" cy="11.3" r="1" fill="#2a2a35"/>
<line x1="430" y1="135" x2="438.7" y2="135" stroke="#ff1288" stroke-width="1.2"/>
<rect x="432.2" y="132.85" width="4.3" height="4.3" fill="#ff1288"/>
<text x="443.6" y="137.4" font-size="6.7" font-weight="normal" text-anchor="start" fill="#2a2a2a" font-family='"Liberation Sans", sans-serif'>WTCD</text>
<line x1="430" y1="153.3" x2="438.7" y2="153.3" stroke="#ff800c" stroke-width="1.2"/>
<polygon points="434.35,150.94 436.5,155.02 432.2,155.02" fill="#ff800c"/>
<text x="443.6" y="155.7" font-size="6.7" font-weight="normal" text-anchor="start" fill="#2a2a2a" font-family='"Liberation Sans", sans-serif'>WTHFD</text>
<line x1="496.4" y1="134.5" x2="505" y2="134.5" stroke="#8f8f12" stroke-width="1.2"/>
<polygon points="500.7,136.87 502.85,132.78 498.55,132.78" fill="#8f8f12"/>
<text x="510.5" y="136.9" font-size="6.7" font-weight="normal" text-anchor="start" fill="#2a2a2a" font-family='"Liberation Sans", sans-serif'>KOCD</text>
<line x1="496.4" y1="152.7" x2="505" y2="152.7" stroke="#0f8c0f" stroke-width="1.2"/>
<polygon points="500.7,150.55 502.85,152.7 500.7,154.85 498.55,152.7" fill="#0f8c0f"/>
<text x="510.5" y="155.1" font-size="6.7" font-weight="normal" text-anchor="start" fill="#2a2a2a" font-family='"Liberation Sans", sans-serif'>KOHFD</text>
<text x="465.5" y="181" font-size="11.5" font-weight="normal" text-anchor="middle" fill="#111" font-family='"Liberation Serif", serif' stroke="#111" stroke-width="0.4">(c)</text>
<rect x="130.1" y="199" width="15" height="6.6" rx="1.6" fill="url(#lWT)" stroke="#000" stroke-width="2"/>
<text x="153.6" y="205.8" font-size="10.8" font-weight="normal" text-anchor="start" fill="#222" font-family='"Liberation Sans", sans-serif'>WTCD14</text>
<rect x="230.8" y="199" width="15" height="6.6" rx="1.6" fill="url(#lHF)" stroke="#000" stroke-width="2"/>
<text x="252.8" y="205.8" font-size="10.8" font-weight="normal" text-anchor="start" fill="#222" font-family='"Liberation Sans", sans-serif'>WTHFD14</text>
<rect x="338.5" y="199" width="15" height="6.6" rx="1.6" fill="url(#lKC)" stroke="#000" stroke-width="2"/>
<text x="360" y="205.8" font-size="10.8" font-weight="normal" text-anchor="start" fill="#222" font-family='"Liberation Sans", sans-serif'>KOCD14</text>
<rect x="430.8" y="199" width="15" height="6.6" rx="1.6" fill="url(#lKH)" stroke="#000" stroke-width="2"/>
<text x="452" y="205.8" font-size="10.8" font-weight="normal" text-anchor="start" fill="#222" font-family='"Liberation Sans", sans-serif'>KOHFD14</text>
<line x1="94.2" y1="235.5" x2="94.2" y2="407" stroke="#111" stroke-width="1.6"/>
<line x1="90.2" y1="236" x2="94.2" y2="236" stroke="#111" stroke-width="1.4"/>
<text x="84.8" y="238.9" font-size="9.5" font-weight="bold" text-anchor="end" fill="#111" font-family='"Liberation Sans", sans-serif'>2500</text>
<line x1="90.2" y1="270.2" x2="94.2" y2="270.2" stroke="#111" stroke-width="1.4"/>
<text x="84.8" y="273.1" font-size="9.5" font-weight="bold" text-anchor="end" fill="#111" font-family='"Liberation Sans", sans-serif'>2000</text>
<line x1="90.2" y1="304.4" x2="94.2" y2="304.4" stroke="#111" stroke-width="1.4"/>
<text x="84.8" y="307.3" font-size="9.5" font-weight="bold" text-anchor="end" fill="#111" font-family='"Liberation Sans", sans-serif'>1500</text>
<line x1="90.2" y1="338.6" x2="94.2" y2="338.6" stroke="#111" stroke-width="1.4"/>
<text x="84.8" y="341.5" font-size="9.5" font-weight="bold" text-anchor="end" fill="#111" font-family='"Liberation Sans", sans-serif'>1000</text>
<line x1="90.2" y1="372.8" x2="94.2" y2="372.8" stroke="#111" stroke-width="1.4"/>
<text x="84.8" y="375.7" font-size="9.5" font-weight="bold" text-anchor="end" fill="#111" font-family='"Liberation Sans", sans-serif'>500</text>
<line x1="90.2" y1="407" x2="94.2" y2="407" stroke="#111" stroke-width="1.4"/>
<text x="84.8" y="409.9" font-size="9.5" font-weight="bold" text-anchor="end" fill="#111" font-family='"Liberation Sans", sans-serif'>0</text>
<line x1="94.2" y1="407" x2="516.4" y2="407" stroke="#111" stroke-width="1.6"/>
<text x="48.5" y="321.5" font-size="10.5" font-weight="bold" text-anchor="middle" fill="#111" font-family='"Liberation Sans", sans-serif' transform="rotate(-90 48.5 321.5)">Organ weight (mg)</text>
<g transform="translate(101.5,0)">
<line x1="0" y1="395.37" x2="0" y2="394" stroke="#000" stroke-width="1.5"/>
<rect x="-2" y="393.1" width="4" height="1.9" rx="0.8" fill="#000"/>
<rect x="-3.85" y="394.87" width="7.7" height="12.93" rx="1.8" fill="#000"/>
<rect x="-2.15" y="396.57" width="4.3" height="10.23" fill="url(#pWT)"/>
</g>
<g transform="translate(110.4,0)">
<line x1="0" y1="251.73" x2="0" y2="249" stroke="#000" stroke-width="1.5"/>
<rect x="-2" y="248.1" width="4" height="1.9" rx="0.8" fill="#000"/>
<rect x="-3.85" y="251.23" width="7.7" height="156.57" rx="1.8" fill="#000"/>
<rect x="-1.85" y="253.23" width="3.7" height="153.57" fill="url(#pHF)"/>
</g>
<g transform="translate(119.7,0)">
<line x1="0" y1="393.32" x2="0" y2="387.85" stroke="#000" stroke-width="1.5"/>
<rect x="-2" y="386.95" width="4" height="1.9" rx="0.8" fill="#000"/>
<rect x="-3.85" y="392.82" width="7.7" height="14.98" rx="1.8" fill="#000"/>
<rect x="-2.15" y="394.52" width="4.3" height="12.28" fill="url(#pKC)"/>
</g>
<g transform="translate(128.6,0)">
<line x1="0" y1="390.58" x2="0" y2="387.51" stroke="#000" stroke-width="1.5"/>
<rect x="-2" y="386.61" width="4" height="1.9" rx="0.8" fill="#000"/>
<rect x="-3.85" y="390.08" width="7.7" height="17.72" rx="1.8" fill="#000"/>
<rect x="-1.55" y="391.78" width="3.7" height="15.02" fill="url(#pKH)"/>
</g>
<line x1="114.7" y1="407" x2="114.7" y2="411.5" stroke="#111" stroke-width="1.3"/>
<text x="117.2" y="421" font-size="9.7" font-weight="bold" text-anchor="end" fill="#111" font-family='"Liberation Sans", sans-serif' transform="rotate(-43 117.2 421)" stroke="#111" stroke-width="0.15">Subcutaneous adipose</text>
<g transform="translate(143.35,0)">
<line x1="0" y1="379.43" x2="0" y2="374.37" stroke="#000" stroke-width="1.5"/>
<rect x="-2" y="373.47" width="4" height="1.9" rx="0.8" fill="#000"/>
<rect x="-3.85" y="378.93" width="7.7" height="28.87" rx="1.8" fill="#000"/>
<rect x="-2.15" y="380.63" width="4.3" height="26.17" fill="url(#pWT)"/>
</g>
<g transform="translate(152.25,0)">
<line x1="0" y1="308.98" x2="0" y2="296.4" stroke="#000" stroke-width="1.5"/>
<rect x="-2" y="295.5" width="4" height="1.9" rx="0.8" fill="#000"/>
<rect x="-3.85" y="308.48" width="7.7" height="99.32" rx="1.8" fill="#000"/>
<rect x="-1.85" y="310.48" width="3.7" height="96.32" fill="url(#pHF)"/>
</g>
<g transform="translate(161.55,0)">
<line x1="0" y1="394.28" x2="0" y2="392.02" stroke="#000" stroke-width="1.5"/>
<rect x="-2" y="391.12" width="4" height="1.9" rx="0.8" fill="#000"/>
<rect x="-3.85" y="393.78" width="7.7" height="14.02" rx="1.8" fill="#000"/>
<rect x="-2.15" y="395.48" width="4.3" height="11.32" fill="url(#pKC)"/>
</g>
<g transform="translate(170.45,0)">
<line x1="0" y1="346.88" x2="0" y2="326.01" stroke="#000" stroke-width="1.5"/>
<rect x="-2" y="325.11" width="4" height="1.9" rx="0.8" fill="#000"/>
<rect x="-3.85" y="346.38" width="7.7" height="61.42" rx="1.8" fill="#000"/>
<rect x="-1.55" y="348.08" width="3.7" height="58.72" fill="url(#pKH)"/>
</g>
<line x1="156.55" y1="407" x2="156.55" y2="411.5" stroke="#111" stroke-width="1.3"/>
<text x="159.05" y="421" font-size="9.7" font-weight="bold" text-anchor="end" fill="#111" font-family='"Liberation Sans", sans-serif' transform="rotate(-43 159.05 421)" stroke="#111" stroke-width="0.15">Perigonadal adipose</text>
<g transform="translate(185.2,0)">
<line x1="0" y1="395.17" x2="0" y2="394.48" stroke="#000" stroke-width="1.5"/>
<rect x="-2" y="393.58" width="4" height="1.9" rx="0.8" fill="#000"/>
<rect x="-3.85" y="394.67" width="7.7" height="13.13" rx="1.8" fill="#000"/>
<rect x="-2.15" y="396.37" width="4.3" height="10.43" fill="url(#pWT)"/>
</g>
<g transform="translate(194.1,0)">
<line x1="0" y1="332.79" x2="0" y2="331.01" stroke="#000" stroke-width="1.5"/>
<rect x="-2" y="330.11" width="4" height="1.9" rx="0.8" fill="#000"/>
<rect x="-3.85" y="332.29" width="7.7" height="75.51" rx="1.8" fill="#000"/>
<rect x="-1.85" y="334.29" width="3.7" height="72.51" fill="url(#pHF)"/>
</g>
<g transform="translate(203.4,0)">
<line x1="0" y1="397.49" x2="0" y2="395.85" stroke="#000" stroke-width="1.5"/>
<rect x="-2" y="394.95" width="4" height="1.9" rx="0.8" fill="#000"/>
<rect x="-3.85" y="396.99" width="7.7" height="10.81" rx="1.8" fill="#000"/>
<rect x="-2.15" y="398.69" width="4.3" height="8.11" fill="url(#pKC)"/>
</g>
<g transform="translate(212.3,0)">
<line x1="0" y1="393.59" x2="0" y2="389.01" stroke="#000" stroke-width="1.5"/>
<rect x="-2" y="388.11" width="4" height="1.9" rx="0.8" fill="#000"/>
<rect x="-3.85" y="393.09" width="7.7" height="14.71" rx="1.8" fill="#000"/>
<rect x="-1.55" y="394.79" width="3.7" height="12.01" fill="url(#pKH)"/>
</g>
<line x1="198.4" y1="407" x2="198.4" y2="411.5" stroke="#111" stroke-width="1.3"/>
<text x="200.9" y="421" font-size="9.7" font-weight="bold" text-anchor="end" fill="#111" font-family='"Liberation Sans", sans-serif' transform="rotate(-43 200.9 421)" stroke="#111" stroke-width="0.15">Mesenteric adipose</text>
<g transform="translate(227.05,0)">
<line x1="0" y1="395.03" x2="0" y2="394.35" stroke="#000" stroke-width="1.5"/>
<rect x="-2" y="393.45" width="4" height="1.9" rx="0.8" fill="#000"/>
<rect x="-3.85" y="394.53" width="7.7" height="13.27" rx="1.8" fill="#000"/>
<rect x="-2.15" y="396.23" width="4.3" height="10.57" fill="url(#pWT)"/>
</g>
<g transform="translate(235.95,0)">
<line x1="0" y1="359.33" x2="0" y2="356.18" stroke="#000" stroke-width="1.5"/>
<rect x="-2" y="355.28" width="4" height="1.9" rx="0.8" fill="#000"/>
<rect x="-3.85" y="358.83" width="7.7" height="48.97" rx="1.8" fill="#000"/>
<rect x="-1.85" y="360.83" width="3.7" height="45.97" fill="url(#pHF)"/>
</g>
<g transform="translate(245.25,0)">
<line x1="0" y1="397.63" x2="0" y2="396.6" stroke="#000" stroke-width="1.5"/>
<rect x="-2" y="395.7" width="4" height="1.9" rx="0.8" fill="#000"/>
<rect x="-3.85" y="397.13" width="7.7" height="10.67" rx="1.8" fill="#000"/>
<rect x="-2.15" y="398.83" width="4.3" height="7.97" fill="url(#pKC)"/>
</g>
<g transform="translate(254.15,0)">
<line x1="0" y1="398.79" x2="0" y2="397.97" stroke="#000" stroke-width="1.5"/>
<rect x="-2" y="397.07" width="4" height="1.9" rx="0.8" fill="#000"/>
<rect x="-3.85" y="398.29" width="7.7" height="9.51" rx="1.8" fill="#000"/>
<rect x="-1.55" y="399.99" width="3.7" height="6.81" fill="url(#pKH)"/>
</g>
<line x1="240.25" y1="407" x2="240.25" y2="411.5" stroke="#111" stroke-width="1.3"/>
<text x="242.75" y="421" font-size="9.7" font-weight="bold" text-anchor="end" fill="#111" font-family='"Liberation Sans", sans-serif' transform="rotate(-43 242.75 421)" stroke="#111" stroke-width="0.15">Brown adipose</text>
<g transform="translate(268.9,0)">
<line x1="0" y1="334.91" x2="0" y2="333.88" stroke="#000" stroke-width="1.5"/>
<rect x="-2" y="332.98" width="4" height="1.9" rx="0.8" fill="#000"/>
<rect x="-3.85" y="334.41" width="7.7" height="73.39" rx="1.8" fill="#000"/>
<rect x="-2.15" y="336.11" width="4.3" height="70.69" fill="url(#pWT)"/>
</g>
<g transform="translate(277.8,0)">
<line x1="0" y1="284.43" x2="0" y2="270.2" stroke="#000" stroke-width="1.5"/>
<rect x="-2" y="269.3" width="4" height="1.9" rx="0.8" fill="#000"/>
<rect x="-3.85" y="283.93" width="7.7" height="123.87" rx="1.8" fill="#000"/>
<rect x="-1.85" y="285.93" width="3.7" height="120.87" fill="url(#pHF)"/>
</g>
<g transform="translate(287.1,0)">
<line x1="0" y1="338.19" x2="0" y2="334.84" stroke="#000" stroke-width="1.5"/>
<rect x="-2" y="333.94" width="4" height="1.9" rx="0.8" fill="#000"/>
<rect x="-3.85" y="337.69" width="7.7" height="70.11" rx="1.8" fill="#000"/>
<rect x="-2.15" y="339.39" width="4.3" height="67.41" fill="url(#pKC)"/>
</g>
<g transform="translate(296,0)">
<line x1="0" y1="316.92" x2="0" y2="310.69" stroke="#000" stroke-width="1.5"/>
<rect x="-2" y="309.79" width="4" height="1.9" rx="0.8" fill="#000"/>
<rect x="-3.85" y="316.42" width="7.7" height="91.38" rx="1.8" fill="#000"/>
<rect x="-1.55" y="318.12" width="3.7" height="88.68" fill="url(#pKH)"/>
</g>
<line x1="282.1" y1="407" x2="282.1" y2="411.5" stroke="#111" stroke-width="1.3"/>
<text x="284.6" y="421" font-size="9.7" font-weight="bold" text-anchor="end" fill="#111" font-family='"Liberation Sans", sans-serif' transform="rotate(-43 284.6 421)" stroke="#111" stroke-width="0.15">Liver</text>
<g transform="translate(310.75,0)">
<line x1="0" y1="383.06" x2="0" y2="382.38" stroke="#000" stroke-width="1.5"/>
<rect x="-2" y="381.48" width="4" height="1.9" rx="0.8" fill="#000"/>
<rect x="-3.85" y="382.56" width="7.7" height="25.24" rx="1.8" fill="#000"/>
<rect x="-2.15" y="384.26" width="4.3" height="22.54" fill="url(#pWT)"/>
</g>
<g transform="translate(319.65,0)">
<line x1="0" y1="379.64" x2="0" y2="378.82" stroke="#000" stroke-width="1.5"/>
<rect x="-2" y="377.92" width="4" height="1.9" rx="0.8" fill="#000"/>
<rect x="-3.85" y="379.14" width="7.7" height="28.66" rx="1.8" fill="#000"/>
<rect x="-1.85" y="381.14" width="3.7" height="25.66" fill="url(#pHF)"/>
</g>
<g transform="translate(328.95,0)">
<line x1="0" y1="381.83" x2="0" y2="381.14" stroke="#000" stroke-width="1.5"/>
<rect x="-2" y="380.24" width="4" height="1.9" rx="0.8" fill="#000"/>
<rect x="-3.85" y="381.33" width="7.7" height="26.47" rx="1.8" fill="#000"/>
<rect x="-2.15" y="383.03" width="4.3" height="23.77" fill="url(#pKC)"/>
</g>
<g transform="translate(337.85,0)">
<line x1="0" y1="381.14" x2="0" y2="380.6" stroke="#000" stroke-width="1.5"/>
<rect x="-2" y="379.7" width="4" height="1.9" rx="0.8" fill="#000"/>
<rect x="-3.85" y="380.64" width="7.7" height="27.16" rx="1.8" fill="#000"/>
<rect x="-1.55" y="382.34" width="3.7" height="24.46" fill="url(#pKH)"/>
</g>
<line x1="323.95" y1="407" x2="323.95" y2="411.5" stroke="#111" stroke-width="1.3"/>
<text x="326.45" y="421" font-size="9.7" font-weight="bold" text-anchor="end" fill="#111" font-family='"Liberation Sans", sans-serif' transform="rotate(-43 326.45 421)" stroke="#111" stroke-width="0.15">Brain</text>
<g transform="translate(352.6,0)">
<line x1="0" y1="391.68" x2="0" y2="390.99" stroke="#000" stroke-width="1.5"/>
<rect x="-2" y="390.09" width="4" height="1.9" rx="0.8" fill="#000"/>
<rect x="-3.85" y="391.18" width="7.7" height="16.62" rx="1.8" fill="#000"/>
<rect x="-2.15" y="392.88" width="4.3" height="13.92" fill="url(#pWT)"/>
</g>
<g transform="translate(361.5,0)">
<line x1="0" y1="381.69" x2="0" y2="380.46" stroke="#000" stroke-width="1.5"/>
<rect x="-2" y="379.56" width="4" height="1.9" rx="0.8" fill="#000"/>
<rect x="-3.85" y="381.19" width="7.7" height="26.61" rx="1.8" fill="#000"/>
<rect x="-1.85" y="383.19" width="3.7" height="23.61" fill="url(#pHF)"/>
</g>
<g transform="translate(370.8,0)">
<line x1="0" y1="391.68" x2="0" y2="390.99" stroke="#000" stroke-width="1.5"/>
<rect x="-2" y="390.09" width="4" height="1.9" rx="0.8" fill="#000"/>
<rect x="-3.85" y="391.18" width="7.7" height="16.62" rx="1.8" fill="#000"/>
<rect x="-2.15" y="392.88" width="4.3" height="13.92" fill="url(#pKC)"/>
</g>
<g transform="translate(379.7,0)">
<line x1="0" y1="389.08" x2="0" y2="386.89" stroke="#000" stroke-width="1.5"/>
<rect x="-2" y="385.99" width="4" height="1.9" rx="0.8" fill="#000"/>
<rect x="-3.85" y="388.58" width="7.7" height="19.22" rx="1.8" fill="#000"/>
<rect x="-1.55" y="390.28" width="3.7" height="16.52" fill="url(#pKH)"/>
</g>
<line x1="365.8" y1="407" x2="365.8" y2="411.5" stroke="#111" stroke-width="1.3"/>
<text x="368.3" y="421" font-size="9.7" font-weight="bold" text-anchor="end" fill="#111" font-family='"Liberation Sans", sans-serif' transform="rotate(-43 368.3 421)" stroke="#111" stroke-width="0.15">Gastrocnemius muscle</text>
<g transform="translate(394.45,0)">
<line x1="0" y1="397.97" x2="0" y2="397.29" stroke="#000" stroke-width="1.5"/>
<rect x="-2" y="396.39" width="4" height="1.9" rx="0.8" fill="#000"/>
<rect x="-3.85" y="397.47" width="7.7" height="10.33" rx="1.8" fill="#000"/>
<rect x="-2.15" y="399.17" width="4.3" height="7.63" fill="url(#pWT)"/>
</g>
<g transform="translate(403.35,0)">
<line x1="0" y1="395.71" x2="0" y2="393.53" stroke="#000" stroke-width="1.5"/>
<rect x="-2" y="392.63" width="4" height="1.9" rx="0.8" fill="#000"/>
<rect x="-3.85" y="395.21" width="7.7" height="12.59" rx="1.8" fill="#000"/>
<rect x="-1.85" y="397.21" width="3.7" height="9.59" fill="url(#pHF)"/>
</g>
<g transform="translate(412.65,0)">
<line x1="0" y1="398.38" x2="0" y2="397.83" stroke="#000" stroke-width="1.5"/>
<rect x="-2" y="396.93" width="4" height="1.9" rx="0.8" fill="#000"/>
<rect x="-3.85" y="397.88" width="7.7" height="9.92" rx="1.8" fill="#000"/>
<rect x="-2.15" y="399.58" width="4.3" height="7.22" fill="url(#pKC)"/>
</g>
<g transform="translate(421.55,0)">
<line x1="0" y1="397.42" x2="0" y2="396.88" stroke="#000" stroke-width="1.5"/>
<rect x="-2" y="395.98" width="4" height="1.9" rx="0.8" fill="#000"/>
<rect x="-3.85" y="396.92" width="7.7" height="10.88" rx="1.8" fill="#000"/>
<rect x="-1.55" y="398.62" width="3.7" height="8.18" fill="url(#pKH)"/>
</g>
<line x1="407.65" y1="407" x2="407.65" y2="411.5" stroke="#111" stroke-width="1.3"/>
<text x="410.15" y="421" font-size="9.7" font-weight="bold" text-anchor="end" fill="#111" font-family='"Liberation Sans", sans-serif' transform="rotate(-43 410.15 421)" stroke="#111" stroke-width="0.15">Lungs</text>
<g transform="translate(436.3,0)">
<line x1="0" y1="398.11" x2="0" y2="396.74" stroke="#000" stroke-width="1.5"/>
<rect x="-2" y="395.84" width="4" height="1.9" rx="0.8" fill="#000"/>
<rect x="-3.85" y="397.61" width="7.7" height="10.19" rx="1.8" fill="#000"/>
<rect x="-2.15" y="399.31" width="4.3" height="7.49" fill="url(#pWT)"/>
</g>
<g transform="translate(445.2,0)">
<line x1="0" y1="396.88" x2="0" y2="395.92" stroke="#000" stroke-width="1.5"/>
<rect x="-2" y="395.02" width="4" height="1.9" rx="0.8" fill="#000"/>
<rect x="-3.85" y="396.38" width="7.7" height="11.42" rx="1.8" fill="#000"/>
<rect x="-1.85" y="398.38" width="3.7" height="8.42" fill="url(#pHF)"/>
</g>
<g transform="translate(454.5,0)">
<line x1="0" y1="398.66" x2="0" y2="398.11" stroke="#000" stroke-width="1.5"/>
<rect x="-2" y="397.21" width="4" height="1.9" rx="0.8" fill="#000"/>
<rect x="-3.85" y="398.16" width="7.7" height="9.64" rx="1.8" fill="#000"/>
<rect x="-2.15" y="399.86" width="4.3" height="6.94" fill="url(#pKC)"/>
</g>
<g transform="translate(463.4,0)">
<line x1="0" y1="398.11" x2="0" y2="397.56" stroke="#000" stroke-width="1.5"/>
<rect x="-2" y="396.66" width="4" height="1.9" rx="0.8" fill="#000"/>
<rect x="-3.85" y="397.61" width="7.7" height="10.19" rx="1.8" fill="#000"/>
<rect x="-1.55" y="399.31" width="3.7" height="7.49" fill="url(#pKH)"/>
</g>
<line x1="449.5" y1="407" x2="449.5" y2="411.5" stroke="#111" stroke-width="1.3"/>
<text x="452" y="421" font-size="9.7" font-weight="bold" text-anchor="end" fill="#111" font-family='"Liberation Sans", sans-serif' transform="rotate(-43 452 421)" stroke="#111" stroke-width="0.15">Heart</text>
<g transform="translate(478.15,0)">
<line x1="0" y1="377.93" x2="0" y2="376.43" stroke="#000" stroke-width="1.5"/>
<rect x="-2" y="375.53" width="4" height="1.9" rx="0.8" fill="#000"/>
<rect x="-3.85" y="377.43" width="7.7" height="30.37" rx="1.8" fill="#000"/>
<rect x="-2.15" y="379.13" width="4.3" height="27.67" fill="url(#pWT)"/>
</g>
<g transform="translate(487.05,0)">
<line x1="0" y1="376.9" x2="0" y2="374.72" stroke="#000" stroke-width="1.5"/>
<rect x="-2" y="373.82" width="4" height="1.9" rx="0.8" fill="#000"/>
<rect x="-3.85" y="376.4" width="7.7" height="31.4" rx="1.8" fill="#000"/>
<rect x="-1.85" y="378.4" width="3.7" height="28.4" fill="url(#pHF)"/>
</g>
<g transform="translate(496.35,0)">
<line x1="0" y1="375.19" x2="0" y2="374.37" stroke="#000" stroke-width="1.5"/>
<rect x="-2" y="373.47" width="4" height="1.9" rx="0.8" fill="#000"/>
<rect x="-3.85" y="374.69" width="7.7" height="33.11" rx="1.8" fill="#000"/>
<rect x="-2.15" y="376.39" width="4.3" height="30.41" fill="url(#pKC)"/>
</g>
<g transform="translate(505.25,0)">
<line x1="0" y1="377.72" x2="0" y2="374.3" stroke="#000" stroke-width="1.5"/>
<rect x="-2" y="373.4" width="4" height="1.9" rx="0.8" fill="#000"/>
<rect x="-3.85" y="377.22" width="7.7" height="30.58" rx="1.8" fill="#000"/>
<rect x="-1.55" y="378.92" width="3.7" height="27.88" fill="url(#pKH)"/>
</g>
<line x1="491.35" y1="407" x2="491.35" y2="411.5" stroke="#111" stroke-width="1.3"/>
<text x="493.85" y="421" font-size="9.7" font-weight="bold" text-anchor="end" fill="#111" font-family='"Liberation Sans", sans-serif' transform="rotate(-43 493.85 421)" stroke="#111" stroke-width="0.15">Kidney</text>
<line x1="97.6" y1="242.8" x2="124.5" y2="242.8" stroke="#555" stroke-width="1.1"/>
<line x1="97.6" y1="239.8" x2="97.6" y2="245.8" stroke="#555" stroke-width="1.1"/>
<line x1="124.5" y1="239.8" x2="124.5" y2="245.8" stroke="#555" stroke-width="1.1"/>
<line x1="110.5" y1="239.8" x2="110.5" y2="245.8" stroke="#555" stroke-width="1"/>
<line x1="111.8" y1="239.8" x2="111.8" y2="245.8" stroke="#555" stroke-width="1"/>
<circle cx="107.6" cy="235.8" r="1.05" fill="#3a3548"/>
<circle cx="111.1" cy="235.8" r="1.05" fill="#3a3548"/>
<circle cx="114.6" cy="235.8" r="1.05" fill="#3a3548"/>
<line x1="142.8" y1="290.9" x2="166.5" y2="290.9" stroke="#555" stroke-width="1.1"/>
<line x1="142.8" y1="287.9" x2="142.8" y2="293.9" stroke="#555" stroke-width="1.1"/>
<line x1="166.5" y1="287.9" x2="166.5" y2="293.9" stroke="#555" stroke-width="1.1"/>
<line x1="153.5" y1="287.9" x2="153.5" y2="293.9" stroke="#555" stroke-width="1"/>
<line x1="154.8" y1="287.9" x2="154.8" y2="293.9" stroke="#555" stroke-width="1"/>
<circle cx="150.6" cy="283.9" r="1.05" fill="#3a3548"/>
<circle cx="154.1" cy="283.9" r="1.05" fill="#3a3548"/>
<circle cx="157.6" cy="283.9" r="1.05" fill="#3a3548"/>
<line x1="158.4" y1="318.7" x2="169.6" y2="318.7" stroke="#555" stroke-width="1.1"/>
<line x1="158.4" y1="315.7" x2="158.4" y2="321.7" stroke="#555" stroke-width="1.1"/>
<line x1="169.6" y1="315.7" x2="169.6" y2="321.7" stroke="#555" stroke-width="1.1"/>
<circle cx="160.6" cy="311.7" r="1.05" fill="#3a3548"/>
<circle cx="164.1" cy="311.7" r="1.05" fill="#3a3548"/>
<circle cx="167.6" cy="311.7" r="1.05" fill="#3a3548"/>
<line x1="181.5" y1="325.2" x2="209.4" y2="325.2" stroke="#555" stroke-width="1.1"/>
<line x1="181.5" y1="322.2" x2="181.5" y2="328.2" stroke="#555" stroke-width="1.1"/>
<line x1="209.4" y1="322.2" x2="209.4" y2="328.2" stroke="#555" stroke-width="1.1"/>
<line x1="194.6" y1="322.2" x2="194.6" y2="328.2" stroke="#555" stroke-width="1"/>
<line x1="195.9" y1="322.2" x2="195.9" y2="328.2" stroke="#555" stroke-width="1"/>
<circle cx="191.8" cy="318.2" r="1.05" fill="#3a3548"/>
<circle cx="195.3" cy="318.2" r="1.05" fill="#3a3548"/>
<circle cx="198.8" cy="318.2" r="1.05" fill="#3a3548"/>
<line x1="227.1" y1="349.8" x2="246.7" y2="349.8" stroke="#555" stroke-width="1.1"/>
<line x1="227.1" y1="346.8" x2="227.1" y2="352.8" stroke="#555" stroke-width="1.1"/>
<line x1="246.7" y1="346.8" x2="246.7" y2="352.8" stroke="#555" stroke-width="1.1"/>
<line x1="232.5" y1="346.8" x2="232.5" y2="352.8" stroke="#555" stroke-width="1"/>
<line x1="234.5" y1="346.8" x2="234.5" y2="352.8" stroke="#555" stroke-width="1"/>
<circle cx="231.1" cy="342.8" r="1.05" fill="#3a3548"/>
<circle cx="234.6" cy="342.8" r="1.05" fill="#3a3548"/>
<circle cx="238.1" cy="342.8" r="1.05" fill="#3a3548"/>
<line x1="268.4" y1="264.9" x2="295.2" y2="264.9" stroke="#555" stroke-width="1.1"/>
<line x1="268.4" y1="261.9" x2="268.4" y2="267.9" stroke="#555" stroke-width="1.1"/>
<line x1="295.2" y1="261.9" x2="295.2" y2="267.9" stroke="#555" stroke-width="1.1"/>
<line x1="279.5" y1="261.9" x2="279.5" y2="267.9" stroke="#555" stroke-width="1"/>
<line x1="280.8" y1="261.9" x2="280.8" y2="267.9" stroke="#555" stroke-width="1"/>
<circle cx="277.1" cy="257.9" r="1.05" fill="#3a3548"/>
<circle cx="280.6" cy="257.9" r="1.05" fill="#3a3548"/>
<circle cx="284.1" cy="257.9" r="1.05" fill="#3a3548"/>
<text x="274" y="516.5" font-size="12" font-weight="normal" text-anchor="middle" fill="#111" font-family='"Liberation Serif", serif' stroke="#111" stroke-width="0.4">(d)</text>
</svg></body></html>
